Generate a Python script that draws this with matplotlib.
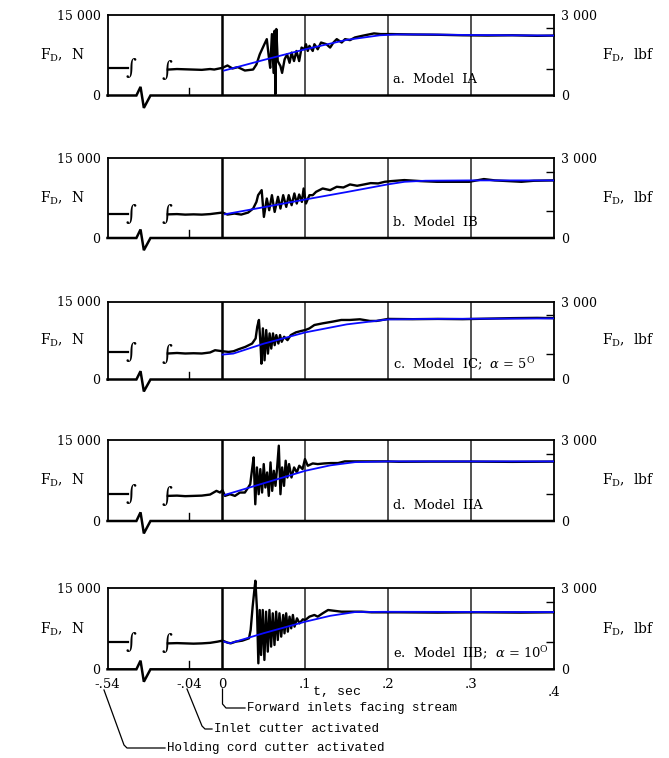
import matplotlib
matplotlib.use('Agg')
import matplotlib.pyplot as plt
from matplotlib.lines import Line2D
from matplotlib.transforms import ScaledTranslation

plt.rcParams['font.family'] = ['DejaVu Serif']
plt.rcParams['mathtext.fontset'] = 'dejavuserif'

W, H = 669, 758
fig = plt.figure(figsize=(W / 100, H / 100), dpi=100)

# ---------------- data ----------------
U_LEFT = -0.1389            # plotted position of t = -0.54 s (broken axis)
BREAK1, BREAK2 = -0.111, -0.067
xtick_pos = [U_LEFT, -0.04, 0.0, 0.1, 0.2, 0.3, 0.4]
xtick_lab = ['-.54', '-.04', '0', '.1', '.2', '.3', '.4']

panel_labels = ['a.  Model  IA', 'b.  Model  IB',
                r'c.  Model  IC;  $\alpha$ = 5$^{\mathrm{O}}$',
                'd.  Model  IIA',
                r'e.  Model  IIB;  $\alpha$ = 10$^{\mathrm{O}}$']

left_level = [5120, 4600, 5300, 5000, 5000]
pre_t = [-0.066, -0.055, -0.045, -0.035, -0.025, -0.015]
pre_a = [4800, 4900, 4850, 4800, 4750, 4900]
pre_b = [4450, 4500, 4400, 4450, 4400, 4500]
pre_c = [5000, 5100, 5000, 5050, 5000, 5200]
pre_d = [4650, 4700, 4600, 4650, 4700, 4900]
pre_e = [4800, 4850, 4800, 4750, 4800, 4900]

# black traces (t in s, F in N)
t_a = [-0.010, 0.0, 0.006, 0.012, 0.0185, 0.027, 0.037, 0.041, 0.045, 0.0506,
       0.0535, 0.0556, 0.0576, 0.0597, 0.0617, 0.063, 0.0638, 0.065, 0.0667, 0.070,
       0.072, 0.075, 0.078, 0.081, 0.0835, 0.0864, 0.0893, 0.0926, 0.0955, 0.0988,
       0.1008, 0.103, 0.105, 0.109, 0.111, 0.115, 0.119, 0.1255, 0.13, 0.134,
       0.138, 0.144, 0.148, 0.154, 0.160, 0.169, 0.175, 0.183, 0.191, 0.204,
       0.23, 0.26, 0.29, 0.32, 0.35, 0.38, 0.4]
f_a = [4810, 5125, 5560, 5000, 5250, 4625, 4810, 5750, 7625, 9500,
       10440, 7625, 5125, 11375, 4190, 12000, 250, 12310, 6375, 5440,
       4190, 6690, 7625, 6060, 7940, 6375, 8250, 6375, 8875, 8560,
       9500, 8250, 9190, 8250, 9500, 8560, 9810, 9500, 8875, 9810,
       10440, 9810, 10440, 10250, 10750, 11060, 11250, 11500, 11375, 11375,
       11300, 11250, 11150, 11100, 11150, 11050, 11100]

t_b = [-0.010, 0.0, 0.006, 0.0144, 0.0226, 0.031, 0.037, 0.041, 0.043, 0.0473,
       0.050, 0.0535, 0.0564, 0.0597, 0.063, 0.067, 0.070, 0.0733, 0.077, 0.080,
       0.0835, 0.0868, 0.0897, 0.0926, 0.0959, 0.098, 0.1008, 0.105, 0.109, 0.113,
       0.121, 0.130, 0.138, 0.146, 0.154, 0.1626, 0.171, 0.179, 0.188, 0.196,
       0.204, 0.2196, 0.239, 0.259, 0.278, 0.298, 0.3157, 0.329, 0.345, 0.361,
       0.376, 0.4]
f_b = [4600, 4790, 4410, 4600, 4410, 4790, 5540, 6800, 8060, 9010,
       3970, 7430, 5230, 8060, 4910, 7750, 5540, 8060, 5860, 8060,
       6170, 8380, 6490, 8190, 6800, 9320, 6490, 8060, 8060, 8690,
       9320, 9010, 9640, 9510, 10080, 9830, 10080, 10330, 10270, 10580,
       10710, 10900, 10710, 10580, 10580, 10580, 11090, 10840, 10710, 10580,
       10770, 10840]

t_c = [-0.009, 0.0, 0.0073, 0.0134, 0.0195, 0.0276, 0.0358, 0.040, 0.042, 0.044,
       0.046, 0.047, 0.0488, 0.0508, 0.0528, 0.0549, 0.0569, 0.0589, 0.061, 0.063,
       0.065, 0.0675, 0.0695, 0.0715, 0.0744, 0.0785, 0.0825, 0.0886, 0.0947, 0.1,
       0.105, 0.111, 0.121, 0.133, 0.1435, 0.1537, 0.166, 0.178, 0.186, 0.2,
       0.23, 0.26, 0.29, 0.32, 0.35, 0.38, 0.4]
f_c = [5630, 5435, 5305, 5435, 5820, 6275, 6920, 7890, 10160, 11450,
       6600, 3040, 9830, 3690, 9510, 4980, 8860, 5950, 8860, 6600,
       8540, 6920, 8540, 7250, 8220, 7570, 8540, 9060, 9320, 9510,
       9830, 10480, 10800, 11130, 11450, 11450, 11580, 11260, 11260, 11650,
       11600, 11650, 11600, 11700, 11800, 11850, 11800]

t_d = [-0.0073, -0.003, 0.0, 0.003, 0.009, 0.015, 0.021, 0.027, 0.031, 0.0335,
       0.0355, 0.0376, 0.0396, 0.0416, 0.0437, 0.0457, 0.0478, 0.0498, 0.0518, 0.0539,
       0.0559, 0.058, 0.060, 0.062, 0.064, 0.066, 0.068, 0.070, 0.072, 0.0743,
       0.0763, 0.0784, 0.0804, 0.0833, 0.0865, 0.0898, 0.0927, 0.0967, 0.0996, 0.103,
       0.109, 0.115, 0.123, 0.131, 0.1396, 0.1478, 0.164, 0.18, 0.197, 0.213,
       0.25, 0.3, 0.35, 0.4]
f_d = [5580, 5270, 5700, 4650, 4960, 4650, 5270, 5270, 6200, 6820,
       9300, 11780, 3100, 9920, 4960, 9610, 5270, 10540, 6200, 8990,
       4650, 10850, 5580, 9300, 6510, 9920, 13950, 4960, 9920, 6510,
       11160, 8060, 10540, 8060, 9920, 8990, 10230, 9610, 11470, 10230,
       10660, 10540, 10660, 10730, 10730, 11040, 11040, 11040, 11040, 10970,
       11000, 11000, 10950, 11000]

t_e = [-0.006, 0.0, 0.006, 0.010, 0.016, 0.024, 0.032, 0.034, 0.0364, 0.0385,
       0.0397, 0.0417, 0.0433, 0.045, 0.0466, 0.0486, 0.0506, 0.0526, 0.0547, 0.0567,
       0.0587, 0.0607, 0.0628, 0.0648, 0.0668, 0.0688, 0.0709, 0.0733, 0.0749, 0.0769,
       0.0789, 0.081, 0.083, 0.085, 0.087, 0.090, 0.093, 0.097, 0.100, 0.105,
       0.111, 0.115, 0.121, 0.1275, 0.1336, 0.1437, 0.156, 0.168, 0.180, 0.196,
       0.2126, 0.26, 0.31, 0.36, 0.4]
f_e = [5120, 5310, 4940, 4810, 5120, 5310, 5740, 7280, 11600, 14690,
       16400, 10980, 1110, 10980, 2650, 10980, 1730, 10670, 3270, 10980,
       4200, 10370, 4500, 10670, 5430, 10370, 6050, 10060, 6660, 10370,
       6970, 9750, 7590, 10060, 7900, 9440, 8510, 9250, 9130, 9750,
       10060, 9750, 10370, 10980, 10860, 10670, 10670, 10670, 10550, 10550,
       10550, 10500, 10550, 10500, 10550]

# blue fitted curves
tb_a = [0.002, 0.05, 0.1, 0.15, 0.19, 0.21, 0.25, 0.3, 0.4]
fb_a = [4620, 6590, 8560, 10300, 11150, 11300, 11300, 11200, 11100]
tb_b = [0.003, 0.05, 0.1, 0.15, 0.2, 0.22, 0.245, 0.3, 0.4]
fb_b = [4470, 5800, 7250, 8650, 10100, 10580, 10780, 10840, 10840]
tb_c = [0.0, 0.013, 0.05, 0.1, 0.15, 0.2, 0.25, 0.4]
fb_c = [4790, 4980, 6900, 9060, 10600, 11550, 11650, 11750]
tb_d = [0.003, 0.05, 0.1, 0.13, 0.16, 0.2, 0.4]
fb_d = [4840, 7000, 9300, 10300, 10900, 11040, 11040]
tb_e = [0.002, 0.009, 0.05, 0.1, 0.13, 0.16, 0.2, 0.4]
fb_e = [5120, 4810, 6700, 8820, 9900, 10600, 10650, 10600]

# zigzag on the zero line and the -.04 event tick
zig_t = [U_LEFT, -0.104, -0.099, -0.095, -0.087, 0.4]
zig_f = [0, 0, 1600, -2300, 0, 0]
evt_f = [0, 1450]

traces = [(t_a, f_a), (t_b, f_b), (t_c, f_c), (t_d, f_d), (t_e, f_e)]
blues = [(tb_a, fb_a), (tb_b, fb_b), (tb_c, fb_c), (tb_d, fb_d), (tb_e, fb_e)]
pres = [pre_a, pre_b, pre_c, pre_d, pre_e]

# ---------------- layout (pixels) ----------------
panel_px = [(14.5, 95.5), (158.3, 238.0), (301.5, 379.5), (440.0, 521.0), (588.3, 669.3)]
x0_px, x1_px = 107.5, 554.0

def fx(px):
    return px / W

def fy(py):
    return 1 - py / H

for i, (top, bot) in enumerate(panel_px):
    ax = fig.add_axes([fx(x0_px), fy(bot), (x1_px - x0_px) / W, (bot - top) / H])
    ax.set_xlim(U_LEFT, 0.4004)
    ax.set_ylim(0, 15000)
    for s in ['top', 'left', 'right']:
        ax.spines[s].set_linewidth(1.3)
    ax.spines['bottom'].set_visible(False)

    # grid / t=0 line
    ax.axvline(0.0, color='black', lw=1.8, zorder=1)
    for g in [0.1, 0.2, 0.3]:
        ax.axvline(g, color='#222222', lw=1.1, zorder=1)

    # zero line with zigzag
    ax.plot(zig_t, zig_f, color='black', lw=1.8, clip_on=False, zorder=3,
            solid_joinstyle='miter')
    ax.plot([-0.04, -0.04], evt_f, color='black', lw=1.0, zorder=3)

    # pre-break and post-break traces
    lvl = left_level[i]
    ax.plot([U_LEFT, BREAK1 - 0.003], [lvl, lvl], color='black', lw=1.6, zorder=3)
    tt, ff = traces[i]
    ax.plot(pre_t + tt, pres[i] + ff, color='black', lw=1.7, zorder=3,
            clip_on=False)
    for bx, by in [(BREAK1, lvl), (BREAK2, pres[i][0])]:
        ax.text(bx, by, '\u222b', fontsize=15, ha='center', va='center',
                family='DejaVu Serif', zorder=4)

    tb, fb = blues[i]
    ax.plot(tb, fb, color='#0a0aff', lw=1.3, zorder=5)

    ax.text(0.206, 2900, panel_labels[i], fontsize=9.4, ha='left', va='center',
            zorder=6)

    ax.set_yticks([0, 15000])
    ax.set_yticklabels(['0', '15 000'])
    ax.tick_params(axis='y', length=0, pad=5, labelsize=9)

    ax2 = ax.twinx()
    ax2.set_ylim(0, 3000)
    ax2.set_yticks([0, 3000])
    ax2.set_yticklabels(['0', '3 000'])
    ax2.set_yticks([1000, 2500], minor=True)
    ax2.tick_params(axis='y', which='major', length=0, pad=5, labelsize=9)
    ax2.tick_params(axis='y', which='minor', length=6, direction='in', width=1.0)
    for s in ax2.spines.values():
        s.set_visible(False)

    if i == 4:
        ax.set_xticks(xtick_pos)
        ax.set_xticklabels(xtick_lab)
        ax.tick_params(axis='x', length=0, pad=6, labelsize=9.5)
        lab = ax.get_xticklabels()[-1]
        lab.set_transform(lab.get_transform() +
                          ScaledTranslation(0, -6 / 72, fig.dpi_scale_trans))
    else:
        ax.set_xticks([])

    yc = fy((top + bot) / 2)
    fig.text(fx(62), yc, r'$\mathrm{F_D}$,  N', ha='center', va='center', fontsize=10)
    fig.text(fx(628), yc, r'$\mathrm{F_D}$,  lbf', ha='center', va='center', fontsize=10)

fig.text(fx(337), fy(692), 't, sec', ha='center', va='center', fontsize=9.5,
         family='Liberation Mono')

leaders = [
    ([222.5, 222.5, 226, 245], [689, 704, 708, 708], 'Forward inlets facing stream', 247, 708),
    ([187, 202, 205, 212], [689, 726, 729, 729], 'Inlet cutter activated', 214, 729),
    ([104, 124, 127, 165], [690, 745, 748, 748], 'Holding cord cutter activated', 167, 748),
]
for xs, ys, txt, tx, ty in leaders:
    fig.add_artist(Line2D([fx(v) for v in xs], [fy(v) for v in ys],
                          transform=fig.transFigure, color='black', lw=0.9))
    fig.text(fx(tx), fy(ty), txt, ha='left', va='center', fontsize=9,
             family='Liberation Mono')

fig.savefig('out.png', dpi=100)
